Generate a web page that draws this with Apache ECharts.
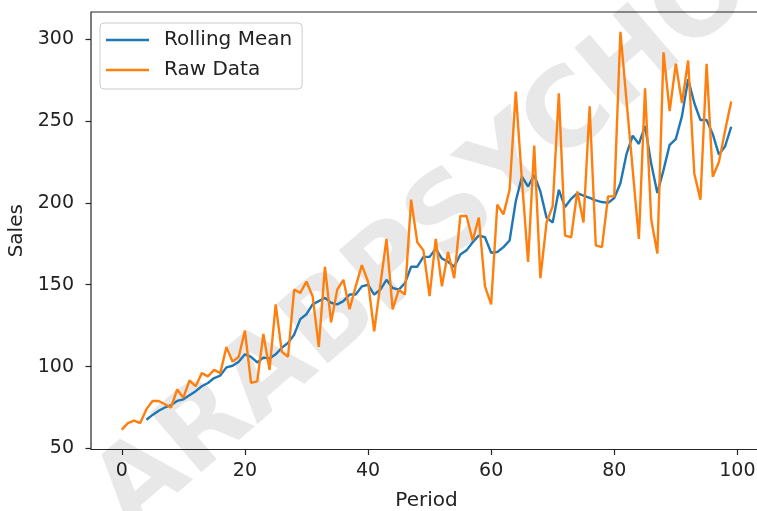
<!DOCTYPE html>
<html>
<head>
<meta charset="utf-8">
<script src="https://cdn.jsdelivr.net/npm/echarts@6/dist/echarts.min.js"></script>
<style>
  html, body { margin: 0; padding: 0; background: #fff; }
  #line { width: 757px; height: 511px; }
</style>
</head>
<body>
<div id="line"></div>
<script>
// values, index = period 0..99
var rawData = [
    61.5, 65.5, 67, 65.5, 74, 79, 79, 77, 75, 86,
    81, 91.5, 88, 96, 94, 98, 96, 112, 103, 106,
    122, 90, 91, 120, 98, 138, 109, 106, 147, 145,
    152, 143, 112, 161, 127, 147, 153, 135, 149, 162,
    152, 121.5, 150, 178, 135, 147, 144, 202, 176, 171,
    143, 178, 149, 170, 154, 192, 192, 177, 191, 149,
    138, 199, 193, 208, 268, 214, 164, 235, 154, 188,
    198, 267, 180, 179, 207, 188, 259, 174, 173, 204,
    204, 304.5, 262, 220, 178, 270, 190, 169, 292, 256,
    285, 261, 287, 218, 202, 285, 216, 225, 244, 262
];
// rolling mean (window 5), nothing drawn for the first 4 periods
var rollingMean = [
    null, null, null, null, 67.5, 70.5, 73, 75, 76.5, 79,
    80, 82.5, 85, 88, 90, 93, 94.5, 99.5, 100.5, 103,
    107.5, 106, 102.5, 105.5, 105, 107.5, 111.5, 114.5, 119.5, 129,
    132, 138, 140, 142, 139, 138, 140, 144, 144, 149,
    150, 144, 147, 153, 148, 147, 151, 161, 161, 167,
    167, 172, 166, 164, 161, 168.5, 171, 176, 180, 179,
    169.5, 170, 173, 177, 201, 216, 210, 217, 207, 191,
    188, 208, 197.5, 202.5, 206, 204.5, 203, 201.5, 200.5, 200,
    203, 212, 230, 241, 236, 247, 224, 206, 220, 235.5,
    239, 253, 275.5, 261, 250.6, 250.6, 242, 229.5, 234.5, 246.5
];
var xTicks = [0, 20, 40, 60, 80, 100];
var yTicks = [50, 100, 150, 200, 250, 300];

var myChart = echarts.init(document.getElementById('line'));

var rawPoints = [];
var meanPoints = [];
for (var i = 0; i < rawData.length; i++) {
    rawPoints.push([i, rawData[i]]);
    if (rollingMean[i] != null) {
        meanPoints.push([i, rollingMean[i]]);
    }
}

var axisColor = '#262626';
var font = 'DejaVu Sans';

var option = {
    animation: false,
    backgroundColor: '#fff',
    graphic: [{
        type: 'text',
        silent: true,
        z: 0,
        x: 112,
        y: 512,
        rotation: 0.71,
        style: {
            text: 'ARABPSYCHOLOGY',
            font: 'bold 108px "DejaVu Sans"',
            fill: 'rgba(0,0,0,0.09)',
            textAlign: 'left',
            textVerticalAlign: 'middle'
        }
    }],
    grid: {
        left: 91,
        top: 12,
        bottom: 61.5,
        right: -5,
        outerBoundsMode: 'none',
        containLabel: false,
        show: true,
        borderColor: axisColor,
        borderWidth: 1.2
    },
    legend: {
        orient: 'vertical',
        left: 100,
        top: 23,
        data: ['Rolling Mean', 'Raw Data'],
        icon: 'rect',
        itemWidth: 43,
        itemHeight: 2.5,
        itemGap: 10,
        padding: [7, 10, 9, 6],
        backgroundColor: 'rgba(255,255,255,0.8)',
        borderColor: '#cccccc',
        borderWidth: 1,
        borderRadius: 4,
        textStyle: {
            fontFamily: font,
            fontSize: 20,
            color: '#222',
            lineHeight: 20,
            padding: [0, 0, 0, 10]
        }
    },
    xAxis: {
        type: 'value',
        min: -5,
        max: 104,
        name: 'Period',
        nameLocation: 'middle',
        nameGap: 41,
        nameTextStyle: { fontFamily: font, fontSize: 20, color: '#222' },
        axisLine: { show: false, onZero: false },
        axisTick: {
            show: true,
            length: 5.5,
            customValues: xTicks,
            lineStyle: { color: axisColor, width: 1.2 }
        },
        axisLabel: {
            customValues: xTicks,
            margin: 12,
            fontFamily: font,
            fontSize: 19,
            color: '#222'
        },
        splitLine: { show: false }
    },
    yAxis: {
        type: 'value',
        min: 49.35,
        max: 316.6,
        name: 'Sales',
        nameLocation: 'middle',
        nameGap: 64,
        nameTextStyle: { fontFamily: font, fontSize: 20, color: '#222' },
        axisLine: { show: false, onZero: false },
        axisTick: {
            show: true,
            length: 5.5,
            customValues: yTicks,
            lineStyle: { color: axisColor, width: 1.2 }
        },
        axisLabel: {
            customValues: yTicks,
            margin: 17,
            fontFamily: font,
            fontSize: 19,
            color: '#222'
        },
        splitLine: { show: false }
    },
    series: [{
        name: 'Rolling Mean',
        type: 'line',
        data: meanPoints,
        symbol: 'none',
        z: 3,
        itemStyle: { color: '#1f77b4' },
        lineStyle: { color: '#1f77b4', width: 2.4 }
    }, {
        name: 'Raw Data',
        type: 'line',
        data: rawPoints,
        symbol: 'none',
        z: 4,
        itemStyle: { color: '#ff7f0e' },
        lineStyle: { color: '#ff7f0e', width: 2.4 }
    }]
};
myChart.setOption(option);
</script>
</body>
</html>
